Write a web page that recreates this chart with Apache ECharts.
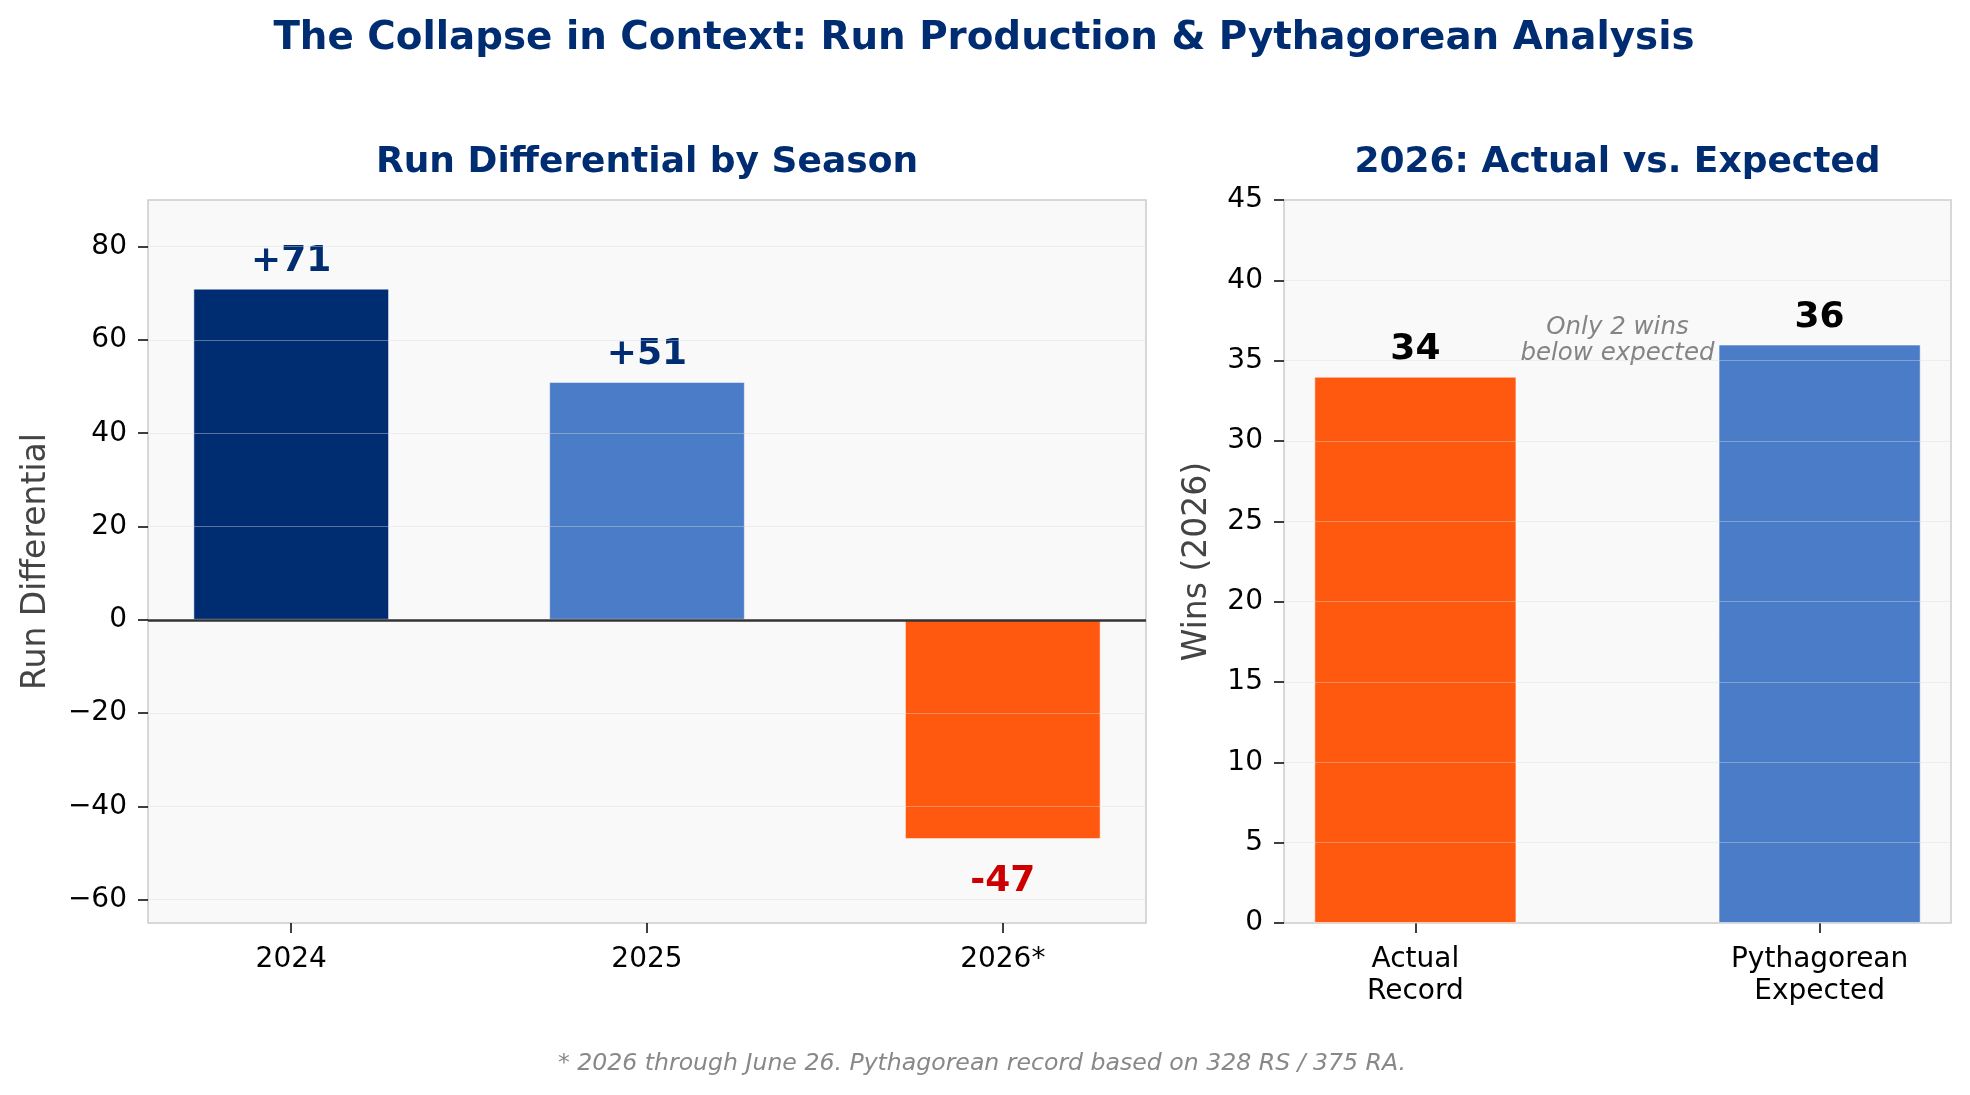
<!DOCTYPE html>
<html>
<head>
<meta charset="utf-8">
<script src="https://cdn.jsdelivr.net/npm/echarts@6/dist/echarts.min.js"></script>
<style>
  html, body { margin: 0; padding: 0; background: #fff; }
  #chart { width: 1970px; height: 1095px; }
</style>
</head>
<body>
<div id="chart"></div>
<script>
// season run differential
const seasons = ["2024", "2025", "2026*"];
const runDiff = [71, 51, -47];
const diffTicks = [-60, -40, -20, 0, 20, 40, 60, 80];

// 2026 wins, actual vs pythagorean
const winCats = ["Actual\nRecord", "Pythagorean\nExpected"];
const wins = [34, 36];
const winTicks = [0, 5, 10, 15, 20, 25, 30, 35, 40, 45];

const annoText = "Only 2 wins\nbelow expected";
const footText = "* 2026 through June 26. Pythagorean record based on 328 RS / 375 RA.";

const NAVY = "#002D72";
const BLUE = "#4A7CC7";
const ORANGE = "#FF5910";
const seasonColors = [NAVY, BLUE, ORANGE];
const seasonLabelColors = [NAVY, NAVY, "#CC0000"];
const winColors = [ORANGE, BLUE];

const FONT = "DejaVu Sans";
const gridL = { left: 148, top: 200, width: 998, height: 723 };
const gridR = { left: 1284, top: 200, width: 667, height: 723 };
const xL = [-0.4025, 2.4025];
const xR = [-0.325, 1.325];

const minusFmt = v => (v < 0 ? "\u2212" + Math.abs(v) : String(v));

const tickStyle = { show: true, length: 10, lineStyle: { color: "#000", width: 1.5 } };
const gridStyle = { show: true, backgroundColor: "#F9F9F9", borderColor: "#CCCCCC", borderWidth: 1.5 };

let chart = echarts.init(document.getElementById("chart"), null, { renderer: "canvas" });

let option = {
    backgroundColor: "#ffffff",
    animation: false,
    textStyle: { fontFamily: FONT },
    graphic: [
        {
            type: "text", x: 984, y: 39,
            style: { text: "The Collapse in Context: Run Production & Pythagorean Analysis", fill: NAVY,
                font: "bold 38.8px 'DejaVu Sans'", align: "center", verticalAlign: "middle" }
        },
        {
            type: "text", x: gridL.left + gridL.width / 2, y: 162.5,
            style: { text: "Run Differential by Season", fill: NAVY,
                font: "bold 36px 'DejaVu Sans'", align: "center", verticalAlign: "middle" }
        },
        {
            type: "text", x: gridR.left + gridR.width / 2, y: 162.5,
            style: { text: "2026: Actual vs. Expected", fill: NAVY,
                font: "bold 36px 'DejaVu Sans'", align: "center", verticalAlign: "middle" }
        },
        {
            type: "text", x: 982, y: 1064,
            style: { text: footText, fill: "#888888",
                font: "italic 23.6px 'DejaVu Sans'", align: "center", verticalAlign: "middle" }
        }
    ],
    grid: [
        Object.assign({}, gridL, gridStyle),
        Object.assign({}, gridR, gridStyle)
    ],
    xAxis: [
        {
            type: "value", gridIndex: 0, min: xL[0], max: xL[1],
            axisLine: { show: false, onZero: false },
            splitLine: { show: false },
            axisTick: Object.assign({ customValues: [0, 1, 2] }, tickStyle),
            axisLabel: {
                customValues: [0, 1, 2],
                formatter: v => seasons[Math.round(v)],
                color: "#000", fontSize: 28, margin: 23
            }
        },
        {
            type: "value", gridIndex: 1, min: xR[0], max: xR[1],
            axisLine: { show: false, onZero: false },
            splitLine: { show: false },
            axisTick: Object.assign({ customValues: [0, 1] }, tickStyle),
            axisLabel: {
                customValues: [0, 1],
                formatter: v => winCats[Math.round(v)],
                color: "#000", fontSize: 28, margin: 21, lineHeight: 32
            }
        }
    ],
    yAxis: [
        {
            type: "value", gridIndex: 0, min: -65, max: 90, z: 3,
            name: "Run Differential", nameLocation: "middle", nameGap: 95,
            nameTextStyle: { color: "#444", fontSize: 33 },
            axisLine: { show: false, onZero: false },
            axisTick: Object.assign({ customValues: diffTicks }, tickStyle),
            axisLabel: { customValues: diffTicks, formatter: minusFmt, color: "#000", fontSize: 28, margin: 21 },
            splitLine: { show: true, lineStyle: { color: "rgba(221,221,221,0.4)", width: 1.2 } }
        },
        {
            type: "value", gridIndex: 1, min: 0, max: 45, z: 3,
            name: "Wins (2026)", nameLocation: "middle", nameGap: 70,
            nameTextStyle: { color: "#444", fontSize: 33 },
            axisLine: { show: false, onZero: false },
            axisTick: Object.assign({ customValues: winTicks }, tickStyle),
            axisLabel: { customValues: winTicks, formatter: minusFmt, color: "#000", fontSize: 28, margin: 21 },
            splitLine: { show: true, lineStyle: { color: "rgba(221,221,221,0.4)", width: 1.2 } }
        }
    ],
    series: [
        {
            name: "Run Differential",
            type: "bar",
            xAxisIndex: 0, yAxisIndex: 0,
            z: 2,
            barWidth: 0.55 * gridL.width / (xL[1] - xL[0]),
            data: runDiff.map((v, i) => ({
                value: [i, v],
                itemStyle: { color: seasonColors[i] },
                label: {
                    position: v < 0 ? "bottom" : "top",
                    distance: v < 0 ? 25 : 9,
                    color: seasonLabelColors[i]
                }
            })),
            itemStyle: { borderColor: "rgba(255,255,255,0.5)", borderWidth: 1 },
            label: {
                show: true, fontSize: 36, fontWeight: "bold",
                formatter: p => (p.value[1] > 0 ? "+" : "") + p.value[1]
            },
            markLine: {
                silent: true, symbol: "none", z: 10,
                label: { show: false },
                lineStyle: { color: "#333333", width: 2.6, type: "solid", opacity: 1 },
                data: [{ yAxis: 0 }]
            }
        },
        {
            name: "Wins",
            type: "bar",
            xAxisIndex: 1, yAxisIndex: 1,
            barWidth: 0.5 * gridR.width / (xR[1] - xR[0]),
            data: wins.map((v, i) => ({ value: [i, v], itemStyle: { color: winColors[i] } })),
            itemStyle: { borderColor: "rgba(255,255,255,0.5)", borderWidth: 1 },
            label: {
                show: true, position: "top", distance: 9,
                fontSize: 36, fontWeight: "bold", color: "#000",
                formatter: p => String(p.value[1])
            }
        },
        {
            name: "note",
            type: "scatter",
            xAxisIndex: 1, yAxisIndex: 1,
            symbolSize: 0.1,
            silent: true,
            itemStyle: { color: "transparent" },
            data: [[0.5, 36.25]],
            label: {
                show: true, position: "inside",
                formatter: annoText,
                fontSize: 24.5, fontStyle: "italic", color: "#666666", lineHeight: 26.6
            }
        }
    ]
};

chart.setOption(option);
</script>
</body>
</html>
